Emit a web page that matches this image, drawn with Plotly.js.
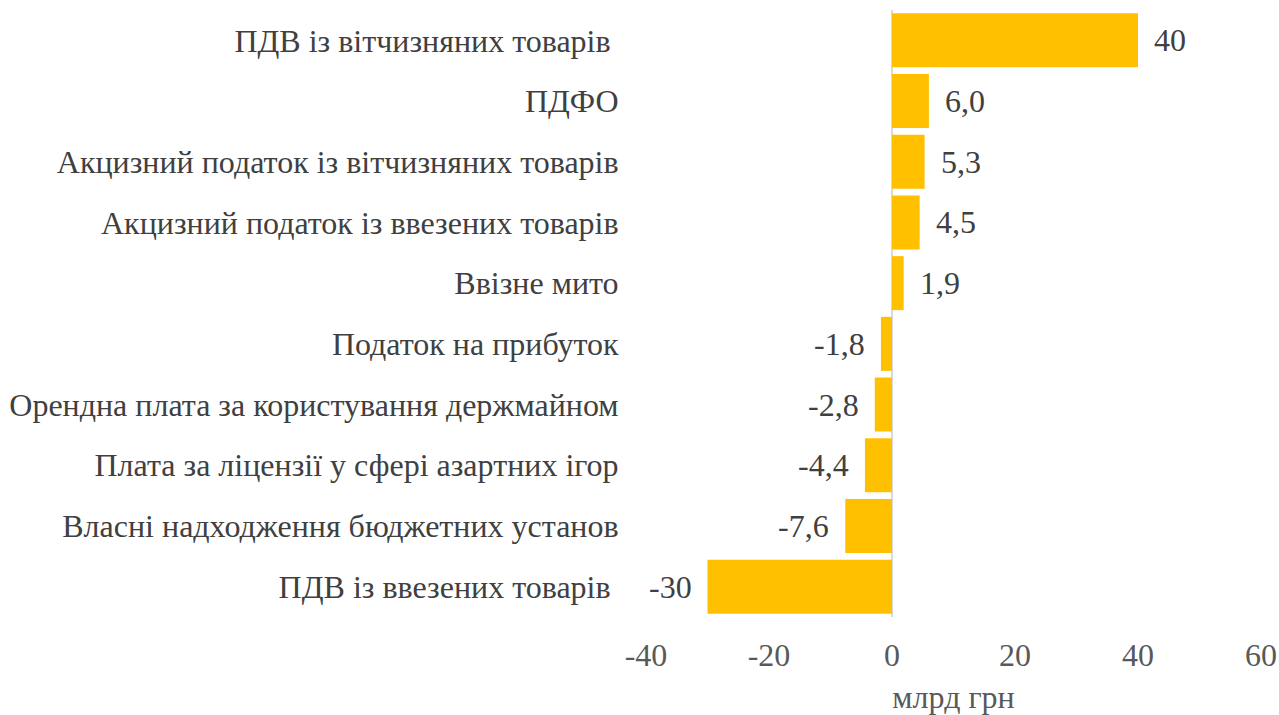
<!DOCTYPE html>
<html>
<head>
<meta charset="utf-8">
<script src="https://cdn.plot.ly/plotly-3.0.1.min.js"></script>
<style>html,body{margin:0;padding:0;background:#fff;}#chart{width:1279px;height:715px;}</style>
</head>
<body>
<div id="chart"></div>
<script>
const categories = [
  "ПДВ із вітчизняних товарів\u00a0",
  "ПДФО",
  "Акцизний податок із вітчизняних товарів",
  "Акцизний податок із ввезених товарів",
  "Ввізне мито",
  "Податок на прибуток",
  "Орендна плата за користування держмайном",
  "Плата за ліцензії у сфері азартних ігор",
  "Власні надходження бюджетних установ",
  "ПДВ із ввезених товарів\u00a0"
];
const values = [40, 6.0, 5.3, 4.5, 1.9, -1.8, -2.8, -4.4, -7.6, -30];
const valueLabels = ["40", "6,0", "5,3", "4,5", "1,9", "-1,8", "-2,8", "-4,4", "-7,6", "-30"];
const xTickVals = [-40, -20, 0, 20, 40, 60];
const xTickText = ["-40", "-20", "0", "20", "40", "60"];
const xTitle = "млрд грн";

const FONT = "Liberation Serif, Times New Roman, serif";

const annotations = values.map((v, i) => ({
  x: v, y: categories[i], xref: "x", yref: "y",
  text: valueLabels[i], showarrow: false,
  xanchor: v >= 0 ? "left" : "right",
  xshift: v >= 0 ? 14 : -14,
  font: {family: FONT, size: 32, color: "#404040"}
}));

const trace = {
  type: "bar", orientation: "h",
  x: values, y: categories,
  marker: {color: "#FFC000"},
  hoverinfo: "x+y"
};

const layout = {
  width: 1279, height: 715,
  margin: {l: 646, r: 18, t: 10, b: 98},
  paper_bgcolor: "#ffffff", plot_bgcolor: "#ffffff",
  bargap: 0.11,
  showlegend: false,
  xaxis: {
    range: [-40, 60], tickvals: xTickVals, ticktext: xTickText,
    showgrid: false, zeroline: true, zerolinecolor: "#d9d9d9", zerolinewidth: 2,
    showline: false, ticks: "outside", ticklen: 10, tickcolor: "rgba(0,0,0,0)",
    tickfont: {family: FONT, size: 32, color: "#595959"},
    title: {text: xTitle, font: {family: FONT, size: 32, color: "#595959"}, standoff: 14}
  },
  yaxis: {
    autorange: "reversed", showgrid: false, zeroline: false, showline: false,
    ticks: "outside", ticklen: 20, tickcolor: "rgba(0,0,0,0)",
    tickfont: {family: FONT, size: 32, color: "#404040"}
  },
  annotations: annotations
};

Plotly.newPlot("chart", [trace], layout, {displayModeBar: false, responsive: false});
</script>
</body>
</html>
